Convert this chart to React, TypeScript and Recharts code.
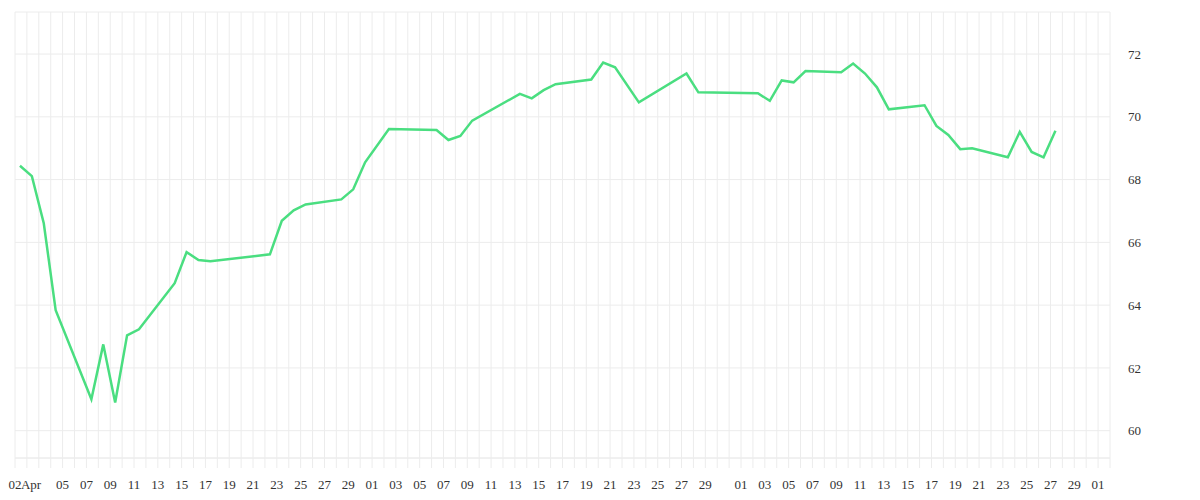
import { CartesianGrid, Line, LineChart, XAxis, YAxis } from "recharts";

// Daily closes (trading days only)
const DATES = [
  "2025-04-01", "2025-04-02", "2025-04-03", "2025-04-04", "2025-04-07",
  "2025-04-08", "2025-04-09", "2025-04-10", "2025-04-11", "2025-04-14",
  "2025-04-15", "2025-04-16", "2025-04-17", "2025-04-22", "2025-04-23",
  "2025-04-24", "2025-04-25", "2025-04-28", "2025-04-29", "2025-04-30",
  "2025-05-02", "2025-05-06", "2025-05-07", "2025-05-08", "2025-05-09",
  "2025-05-13", "2025-05-14", "2025-05-15", "2025-05-16", "2025-05-19",
  "2025-05-20", "2025-05-21", "2025-05-23", "2025-05-27", "2025-05-28",
  "2025-06-02", "2025-06-03", "2025-06-04", "2025-06-05", "2025-06-06",
  "2025-06-09", "2025-06-10", "2025-06-11", "2025-06-12", "2025-06-13",
  "2025-06-16", "2025-06-17", "2025-06-18", "2025-06-19", "2025-06-20",
  "2025-06-23", "2025-06-24", "2025-06-25", "2025-06-26", "2025-06-27",
];

const VALUES = [
  68.44, 68.11, 66.61, 63.84, 61.0,
  62.75, 60.9, 63.04, 63.23, 64.7,
  65.69, 65.44, 65.4, 65.62, 66.69,
  67.02, 67.21, 67.37, 67.69, 68.55,
  69.61, 69.58, 69.26, 69.39, 69.88,
  70.73, 70.59, 70.85, 71.04, 71.19,
  71.73, 71.58, 70.46, 71.38, 70.78,
  70.75, 70.51, 71.16, 71.1, 71.46,
  71.42, 71.7, 71.38, 70.94, 70.24,
  70.37, 69.71, 69.42, 68.97, 69.0,
  68.71, 69.52, 68.88, 68.71, 69.56,
];

// x-axis labels, keyed by day offset from the axis start
const TICK_DAYS = [
  0, 1, 4, 6, 8, 10, 12, 14, 16, 18, 20, 22, 24, 26, 28,
  30, 32, 34, 36, 38, 40, 42, 44, 46, 48, 50, 52, 54, 56, 58,
  61, 63, 65, 67, 69, 71, 73, 75, 77, 79, 81, 83, 85, 87, 89, 91,
];
const TICK_TEXT = [
  "02", "Apr", "05", "07", "09", "11", "13", "15", "17", "19", "21", "23", "25", "27", "29",
  "01", "03", "05", "07", "09", "11", "13", "15", "17", "19", "21", "23", "25", "27", "29",
  "01", "03", "05", "07", "09", "11", "13", "15", "17", "19", "21", "23", "25", "27", "29", "01",
];

const Y_TICKS = [60, 62, 64, 66, 68, 70, 72];

const AXIS_START = Date.UTC(2025, 3, 1);
const AXIS_DAYS = 92;
const SAMPLE_HOUR = 10;
const DAY_MS = 86400000;

const dayOffset = (iso: string) => {
  const [y, m, d] = iso.split("-").map(Number);
  return (Date.UTC(y, m - 1, d) - AXIS_START) / DAY_MS;
};

const data = DATES.map((date, i) => ({
  t: dayOffset(date) + SAMPLE_HOUR / 24,
  value: VALUES[i],
}));

const allDays = Array.from({ length: AXIS_DAYS + 1 }, (_, i) => i);
const labelFor = new Map(TICK_DAYS.map((d, i) => [d, TICK_TEXT[i]]));

const GRID = "#ececec";
const TEXT = "#333";

function DayTick({ x, y, payload }: any) {
  const label = labelFor.get(payload.value);
  if (!label) return null;
  const isMonth = label === "Apr";
  return (
    <text
      x={isMonth ? x - 6 : x}
      y={y}
      dy="0.71em"
      textAnchor={isMonth ? "start" : "middle"}
      fontSize={13}
      fill={TEXT}
    >
      {label}
    </text>
  );
}

export default function App() {
  return (
    <LineChart
      width={1184}
      height={492}
      data={data}
      margin={{ top: 4, right: 22, left: 7, bottom: 12 }}
    >
      <CartesianGrid stroke={GRID} />
      <XAxis
        dataKey="t"
        type="number"
        domain={[0, AXIS_DAYS]}
        ticks={allDays}
        interval={0}
        height={30}
        axisLine={{ stroke: GRID }}
        tickLine={{ stroke: GRID }}
        tickSize={10}
        tickMargin={12}
        tick={<DayTick />}
      />
      <YAxis
        orientation="right"
        domain={[59.13, 73.34]}
        ticks={Y_TICKS}
        width={60}
        axisLine={false}
        tickLine={false}
        tickSize={0}
        tickMargin={18}
        tick={{ fontSize: 13, fill: TEXT, textAnchor: "start" }}
      />
      <Line
        type="linear"
        dataKey="value"
        stroke="#4ade80"
        strokeWidth={2.5}
        dot={false}
        isAnimationActive={false}
      />
    </LineChart>
  );
}
